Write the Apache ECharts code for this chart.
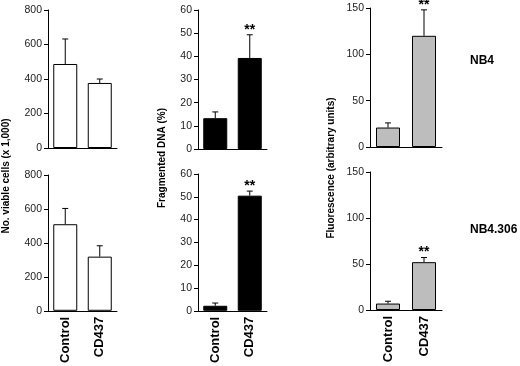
<!DOCTYPE html>
<html>
<head>
<meta charset="utf-8">
<script src="https://cdn.jsdelivr.net/npm/echarts@6/dist/echarts.min.js"></script>
<style>
  html, body { margin: 0; padding: 0; background: #fff; }
  #chart { width: 520px; height: 366px; }
</style>
</head>
<body>
<div id="chart"></div>
<script>
// categories
var categories = ["Control", "CD437"];

// viable cells (x 1,000): mean and upper error
var viableNB4 = [487, 377];
var viableNB4Err = [145, 23];
var viableNB4306 = [510, 319];
var viableNB4306Err = [93, 64];

// fragmented DNA (%)
var dnaNB4 = [13.3, 39.3];
var dnaNB4Err = [2.7, 10];
var dnaNB4306 = [2.2, 50.5];
var dnaNB4306Err = [1.2, 2];

// fluorescence (arbitrary units)
var fluoNB4 = [21, 120];
var fluoNB4Err = [5, 28];
var fluoNB4306 = [7, 52];
var fluoNB4306Err = [2.5, 5];

// significance markers (**)
var sigViable = [0, 0];
var sigOther = [0, 1];

// y axis ranges
var viableMax = 800, viableStep = 200;
var dnaMax = 60, dnaStep = 10;
var fluoMax = 150, fluoStep = 50;

var FONT = "Liberation Sans, Arial, sans-serif";

var chart = echarts.init(document.getElementById("chart"));

var grids = [
  { left: 48, top: 10, width: 69, height: 138 },
  { left: 198, top: 10, width: 69, height: 139 },
  { left: 370, top: 8, width: 72, height: 139 },
  { left: 48, top: 175, width: 69, height: 138 },
  { left: 198, top: 174, width: 69, height: 138 },
  { left: 370, top: 172, width: 72, height: 138 }
];

function xAxisFor(i, showLabels) {
  return {
    type: "category",
    gridIndex: i,
    data: categories,
    axisTick: { show: false },
    axisLine: { lineStyle: { color: "#000", width: 1 } },
    axisLabel: {
      show: showLabels,
      rotate: 90,
      margin: 6,
      color: "#000",
      fontFamily: FONT,
      fontWeight: "bold",
      fontSize: 13
    }
  };
}

function yAxisFor(i, max, step) {
  return {
    type: "value",
    gridIndex: i,
    min: 0,
    max: max,
    interval: step,
    splitLine: { show: false },
    axisLine: { show: true, lineStyle: { color: "#000", width: 1 } },
    axisTick: { show: true, length: 4, lineStyle: { color: "#000" } },
    axisLabel: { margin: 6, color: "#222", fontFamily: FONT, fontSize: 10.5 }
  };
}

function barSeries(i, values, fill) {
  return {
    type: "bar",
    xAxisIndex: i,
    yAxisIndex: i,
    data: values,
    barWidth: 24,
    itemStyle: { color: fill, borderColor: "#000", borderWidth: 1 },
    silent: true
  };
}

function errorSeries(i, values, errs, sig) {
  return {
    type: "custom",
    xAxisIndex: i,
    yAxisIndex: i,
    silent: true,
    z: 5,
    data: values.map(function (v, k) {
      return [k, v, v + errs[k], sig[k]];
    }),
    renderItem: function (params, api) {
      var base = api.coord([api.value(0), api.value(1)]);
      var top = api.coord([api.value(0), api.value(2)]);
      var kids = [
        {
          type: "line",
          shape: { x1: base[0], y1: base[1], x2: top[0], y2: top[1] },
          style: { stroke: "#000", lineWidth: 1 }
        },
        {
          type: "line",
          shape: { x1: top[0] - 3, y1: top[1], x2: top[0] + 3, y2: top[1] },
          style: { stroke: "#000", lineWidth: 1 }
        }
      ];
      if (api.value(3)) {
        kids.push({
          type: "text",
          x: top[0],
          y: top[1] - 12,
          style: {
            text: "**",
            align: "center",
            verticalAlign: "top",
            fontFamily: FONT,
            fontWeight: "bold",
            fontSize: 14,
            fill: "#000"
          }
        });
      }
      return { type: "group", children: kids };
    }
  };
}

function sideText(text, x, y, rotate, size) {
  return {
    type: "text",
    x: x,
    y: y,
    rotation: rotate ? Math.PI / 2 : 0,
    style: {
      text: text,
      align: rotate ? "center" : "left",
      verticalAlign: "middle",
      fontFamily: FONT,
      fontWeight: "bold",
      fontSize: size,
      fill: "#000"
    }
  };
}

var option = {
  backgroundColor: "#fff",
  animation: false,
  grid: grids,
  xAxis: [
    xAxisFor(0, false), xAxisFor(1, false), xAxisFor(2, false),
    xAxisFor(3, true), xAxisFor(4, true), xAxisFor(5, true)
  ],
  yAxis: [
    yAxisFor(0, viableMax, viableStep),
    yAxisFor(1, dnaMax, dnaStep),
    yAxisFor(2, fluoMax, fluoStep),
    yAxisFor(3, viableMax, viableStep),
    yAxisFor(4, dnaMax, dnaStep),
    yAxisFor(5, fluoMax, fluoStep)
  ],
  series: [
    barSeries(0, viableNB4, "#fff"),
    errorSeries(0, viableNB4, viableNB4Err, sigViable),
    barSeries(1, dnaNB4, "#000"),
    errorSeries(1, dnaNB4, dnaNB4Err, sigOther),
    barSeries(2, fluoNB4, "#bdbdbd"),
    errorSeries(2, fluoNB4, fluoNB4Err, sigOther),
    barSeries(3, viableNB4306, "#fff"),
    errorSeries(3, viableNB4306, viableNB4306Err, sigViable),
    barSeries(4, dnaNB4306, "#000"),
    errorSeries(4, dnaNB4306, dnaNB4306Err, sigOther),
    barSeries(5, fluoNB4306, "#bdbdbd"),
    errorSeries(5, fluoNB4306, fluoNB4306Err, sigOther)
  ],
  graphic: [
    sideText("No. viable cells (x 1,000)", 6, 176, true, 10),
    sideText("Fragmented DNA (%)", 162, 158, true, 10),
    sideText("Fluorescence (arbitrary units)", 331, 168, true, 10),
    sideText("NB4", 470, 61, false, 12),
    sideText("NB4.306", 470, 230, false, 12)
  ]
};

chart.setOption(option);
</script>
</body>
</html>
